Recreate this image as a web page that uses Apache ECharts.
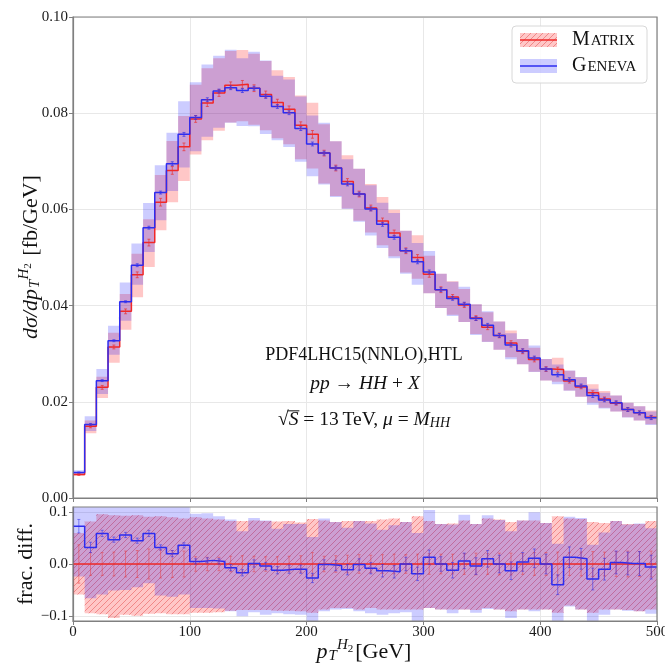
<!DOCTYPE html>
<html><head><meta charset="utf-8">
<script src="https://cdn.jsdelivr.net/npm/echarts@6/dist/echarts.min.js"></script>
<style>html,body{margin:0;padding:0;background:#fff}#c{width:665px;height:666px}</style>
</head><body><div id="c"></div>
<script>
// ---------------- data ----------------
const binEdges = [0,10,20,30,40,50,60,70,80,90,100,110,120,130,140,150,160,170,180,190,200,210,220,230,240,250,260,270,280,290,300,310,320,330,340,350,360,370,380,390,400,410,420,430,440,450,460,470,480,490,500];
const matrixXs = [0.0049,0.0149,0.0230,0.0314,0.0388,0.0464,0.0531,0.0615,0.0681,0.0730,
  0.0788,0.0821,0.0842,0.0858,0.0860,0.0852,0.0839,0.0822,0.0808,0.0775,
  0.0756,0.0717,0.0686,0.0658,0.0632,0.0603,0.0576,0.0551,0.0514,0.0500,
  0.0465,0.0433,0.0418,0.0401,0.0374,0.0355,0.0338,0.0322,0.0305,0.0288,
  0.0268,0.0267,0.0243,0.0231,0.0219,0.0206,0.0197,0.0184,0.0177,0.0168];
const genevaXs = [0.0053,0.0153,0.0244,0.0327,0.0408,0.0484,0.0562,0.0635,0.0695,0.0756,
  0.0791,0.0828,0.0846,0.0853,0.0847,0.0852,0.0835,0.0814,0.0801,0.0768,
  0.0736,0.0717,0.0686,0.0653,0.0632,0.0601,0.0569,0.0542,0.0514,0.0491,
  0.0470,0.0433,0.0415,0.0403,0.0373,0.0359,0.0338,0.0318,0.0306,0.0291,
  0.0268,0.0256,0.0246,0.0233,0.0213,0.0204,0.0198,0.0184,0.0177,0.0167];
// fractional differences w.r.t. Matrix
const genevaRatio = [0.073,0.032,0.059,0.047,0.056,0.045,0.059,0.032,0.020,0.036,
  0.005,0.007,0.005,-0.007,-0.017,0.001,-0.004,-0.012,-0.010,-0.010,
  -0.027,-0.001,-0.003,-0.011,-0.001,-0.008,-0.013,-0.015,0.000,-0.019,
  0.013,0.000,-0.012,0.006,-0.004,0.010,0.000,-0.013,0.004,0.011,
  0.000,-0.040,0.013,0.010,-0.029,-0.010,0.003,0.001,0.001,-0.006];
const matrixBandHi = [0.060,0.082,0.096,0.094,0.093,0.094,0.091,0.092,0.090,0.088,
  0.090,0.088,0.086,0.083,0.083,0.084,0.083,0.082,0.083,0.080,
  0.087,0.084,0.081,0.083,0.083,0.083,0.086,0.088,0.081,0.092,
  0.083,0.077,0.078,0.084,0.077,0.088,0.086,0.081,0.084,0.084,
  0.079,0.092,0.088,0.087,0.081,0.079,0.083,0.077,0.077,0.083];
const matrixBandLo = [-0.059,-0.095,-0.097,-0.104,-0.098,-0.100,-0.096,-0.095,-0.097,-0.097,
  -0.094,-0.094,-0.093,-0.090,-0.089,-0.089,-0.089,-0.090,-0.090,-0.091,
  -0.094,-0.088,-0.085,-0.085,-0.088,-0.085,-0.088,-0.088,-0.088,-0.088,
  -0.085,-0.088,-0.088,-0.088,-0.089,-0.085,-0.088,-0.091,-0.088,-0.088,
  -0.088,-0.094,-0.080,-0.088,-0.094,-0.088,-0.088,-0.089,-0.091,-0.088];
const genevaBandHi = [0.180,0.140,0.165,0.140,0.155,0.140,0.155,0.125,0.115,0.130,
  0.097,0.098,0.092,0.086,0.063,0.089,0.084,0.068,0.077,0.077,
  0.052,0.088,0.081,0.070,0.083,0.078,0.066,0.075,0.081,0.060,
  0.104,0.077,0.076,0.095,0.077,0.094,0.085,0.063,0.084,0.100,
  0.079,0.039,0.091,0.089,0.037,0.061,0.083,0.076,0.078,0.069];
const genevaBandLo = [-0.024,-0.066,-0.059,-0.051,-0.050,-0.045,-0.037,-0.061,-0.063,-0.059,
  -0.085,-0.085,-0.086,-0.091,-0.101,-0.093,-0.098,-0.095,-0.097,-0.098,
  -0.115,-0.091,-0.088,-0.087,-0.091,-0.095,-0.098,-0.095,-0.093,-0.113,
  -0.085,-0.088,-0.095,-0.088,-0.094,-0.087,-0.088,-0.104,-0.088,-0.091,
  -0.088,-0.115,-0.082,-0.088,-0.115,-0.098,-0.088,-0.090,-0.091,-0.096];
// statistical error bars (ratio panel, fractional)
const matrixRatioErr = [0.037,0.022,0.022,0.023,0.025,0.026,0.029,0.027,0.026,0.025,
  0.014,0.013,0.013,0.015,0.016,0.015,0.014,0.014,0.015,0.016,
  0.022,0.015,0.016,0.017,0.018,0.017,0.018,0.019,0.018,0.019,
  0.020,0.019,0.019,0.020,0.021,0.020,0.021,0.021,0.020,0.022,
  0.022,0.023,0.022,0.023,0.024,0.023,0.024,0.025,0.024,0.025];
const genevaRatioErr = [0.013,0.010,0.006,0.005,0.005,0.005,0.006,0.005,0.006,0.005,
  0.005,0.005,0.005,0.006,0.006,0.007,0.007,0.007,0.008,0.008,
  0.009,0.009,0.010,0.010,0.011,0.011,0.012,0.012,0.013,0.013,
  0.014,0.014,0.015,0.015,0.016,0.016,0.017,0.017,0.018,0.018,
  0.019,0.019,0.020,0.020,0.021,0.021,0.022,0.022,0.023,0.023];
// statistical error bars (main panel, fb/GeV)
const matrixMainErr = [0.0002,0.0003,0.0004,0.0004,0.0005,0.0006,0.0007,0.0008,0.0008,0.0008,
  0.0007,0.0007,0.0007,0.0007,0.0008,0.0007,0.0007,0.0007,0.0007,0.0007,
  0.0008,0.0006,0.0006,0.0006,0.0006,0.0006,0.0006,0.0006,0.0006,0.0006,
  0.0006,0.0006,0.0005,0.0005,0.0005,0.0005,0.0005,0.0005,0.0005,0.0005,
  0.0005,0.0005,0.0004,0.0004,0.0004,0.0004,0.0004,0.0004,0.0004,0.0004];
const genevaMainErr = [0.0001,0.0002,0.0002,0.0002,0.0002,0.0003,0.0003,0.0003,0.0004,0.0004,
  0.0004,0.0004,0.0004,0.0004,0.0004,0.0004,0.0004,0.0004,0.0004,0.0004,
  0.0004,0.0004,0.0004,0.0004,0.0004,0.0004,0.0004,0.0004,0.0004,0.0004,
  0.0004,0.0004,0.0004,0.0004,0.0004,0.0004,0.0004,0.0004,0.0004,0.0004,
  0.0004,0.0004,0.0004,0.0004,0.0004,0.0004,0.0004,0.0004,0.0004,0.0004];
const matrixRatio = [0,0,0,0,0,0,0,0,0,0,0,0,0,0,0,0,0,0,0,0,0,0,0,0,0,0,0,0,0,0,0,0,0,0,0,0,0,0,0,0,0,0,0,0,0,0,0,0,0,0];
const xTicks = [0,100,200,300,400,500];
const yMainTicks = [0,0.02,0.04,0.06,0.08,0.10];
const yRatioTicks = [-0.1,0,0.1];
const seriesNames = ['Matrix','Geneva'];

// ---------------- style ----------------
const SERIF = "'Liberation Serif', 'DejaVu Serif', serif";
const RED_LINE = 'rgb(240,40,40)', BLUE_LINE = 'rgb(45,45,240)';
const RED_FILL = 'rgba(255,0,0,0.22)', BLUE_FILL = 'rgba(0,0,255,0.20)';
const FRAME = '#808080', GRIDC = '#e8e8e8';
const G0 = {left:73, top:17, width:584, height:481};
const G1 = {left:73, top:507, width:584, height:114};

const hatch = document.createElement('canvas');
hatch.width = 6; hatch.height = 6;
(function(){const c=hatch.getContext('2d');c.strokeStyle='rgba(225,60,60,0.45)';c.lineWidth=1;
 c.beginPath();c.moveTo(-1,7);c.lineTo(7,-1);c.moveTo(-1,1);c.lineTo(1,-1);c.moveTo(5,7);c.lineTo(7,5);c.stroke();})();
const hatchFill = {image: hatch, repeat: 'repeat'};

function centers(){ const c=[]; for(let i=0;i<binEdges.length-1;i++) c.push((binEdges[i]+binEdges[i+1])/2); return c; }
const binCenters = centers();

function stepData(vals){ const d = vals.map((v,i)=>[binEdges[i], v]); d.push([binEdges[vals.length], vals[vals.length-1]]); return d; }

function bandSeries(idx, lo, hi, fill, withHatch, z){
  return {type:'custom', xAxisIndex:idx, yAxisIndex:idx, z, silent:true, clip:true,
    data:[[binEdges[0], lo[0]]],
    renderItem(params, api){
      const pts=[];
      for(let i=0;i<hi.length;i++){ pts.push(api.coord([binEdges[i],hi[i]])); pts.push(api.coord([binEdges[i+1],hi[i]])); }
      for(let i=lo.length-1;i>=0;i--){ pts.push(api.coord([binEdges[i+1],lo[i]])); pts.push(api.coord([binEdges[i],lo[i]])); }
      const cs=params.coordSys;
      const children=[{type:'polygon', shape:{points:pts}, style:{fill}}];
      if(withHatch) children.push({type:'polygon', shape:{points:pts}, style:{fill:hatchFill}});
      return {type:'group', children, clipPath:{type:'rect', shape:{x:cs.x,y:cs.y,width:cs.width,height:cs.height}}};
    }};
}
function errSeries(idx, vals, errs, color, z){
  return {type:'custom', xAxisIndex:idx, yAxisIndex:idx, z, silent:true, clip:true,
    data: vals.map((v,i)=>[binCenters[i], v-errs[i], v+errs[i]]),
    renderItem(params, api){
      const a=api.coord([api.value(0),api.value(1)]), b=api.coord([api.value(0),api.value(2)]);
      const st={stroke:color, lineWidth:1};
      return {type:'group', children:[
        {type:'line', shape:{x1:a[0],y1:a[1],x2:b[0],y2:b[1]}, style:st},
        {type:'line', shape:{x1:a[0]-1.5,y1:a[1],x2:a[0]+1.5,y2:a[1]}, style:st},
        {type:'line', shape:{x1:b[0]-1.5,y1:b[1],x2:b[0]+1.5,y2:b[1]}, style:st}]};
    }};
}
function stepSeries(idx, vals, color, z, name){
  return {type:'line', name, xAxisIndex:idx, yAxisIndex:idx, z, step:'end', symbol:'none', silent:true, clip:true,
    data: stepData(vals), lineStyle:{color, width:1.5}};
}

const mainRedLo = matrixXs.map((v,i)=>v*(1+matrixBandLo[i]));
const mainRedHi = matrixXs.map((v,i)=>v*(1+matrixBandHi[i]));
const mainBlueLo = matrixXs.map((v,i)=>v*(1+genevaBandLo[i]));
const mainBlueHi = matrixXs.map((v,i)=>v*(1+genevaBandHi[i]));

const axisLabelStyle = {fontFamily:SERIF, fontSize:15, color:'#1a1a1a'};
function xAx(gi, showLabel){
  return {type:'value', gridIndex:gi, min:xTicks[0], max:xTicks[xTicks.length-1], interval:100,
    axisLine:{show:true, onZero:false, lineStyle:{color:FRAME, width:1.2}},
    axisTick:{show:true, inside:false, length:4, lineStyle:{color:FRAME}},
    axisLabel:Object.assign({show:showLabel, margin:4, alignMinLabel:'center', alignMaxLabel:'center', hideOverlap:false}, axisLabelStyle),
    splitLine:{show:true, lineStyle:{color:GRIDC, width:1}}};
}

const chart = echarts.init(document.getElementById('c'), null, {renderer:'canvas'});
const txt = (x,y,text,rich,extra)=>Object.assign({type:'text', x, y, z:100, style:{text, rich, align:'center', verticalAlign:'middle', fill:'#111', fontFamily:SERIF}}, extra||{});

const labRich = {
  i:{fontFamily:SERIF, fontStyle:'italic', fontSize:22, fill:'#111'},
  n:{fontFamily:SERIF, fontSize:22, fill:'#111'},
  sub:{fontFamily:SERIF, fontStyle:'italic', fontSize:15, padding:[9,0,0,1], fill:'#111'},
  sup:{fontFamily:SERIF, fontStyle:'italic', fontSize:15, padding:[0,0,14,0], fill:'#111'},
  sup2:{fontFamily:SERIF, fontSize:11, padding:[0,2,5,0], fill:'#111'}
};
const ANN = 19.5;
const annRich = {
  r:{fontFamily:SERIF, fontSize:18, fill:'#111'},
  r2:{fontFamily:SERIF, fontSize:ANN, fill:'#111'},
  i:{fontFamily:SERIF, fontStyle:'italic', fontSize:ANN, fill:'#111'},
  sub:{fontFamily:SERIF, fontStyle:'italic', fontSize:14, padding:[7,0,0,0], fill:'#111'}
};
const legRich = {
  b:{fontFamily:SERIF, fontSize:20, fill:'#111'},
  s:{fontFamily:SERIF, fontSize:15, padding:[3,0,0,1], fill:'#111'}
};

// overline for sqrt(S): measure text widths of line 3
const mctx = document.createElement('canvas').getContext('2d');
function w(str, italic, size){ mctx.font = (italic?'italic ':'') + size + "px 'Liberation Serif'"; return mctx.measureText(str).width; }
const line3 = [['\u221A',0,ANN],['S',1,ANN],[' = 13\u2009TeV, ',0,ANN],['μ',1,ANN],[' = ',0,ANN],['M',1,ANN],['HH',1,14]];
const line3W = line3.reduce((s,t)=>s+w(t[0],t[1],t[2]),0);
const l3x0 = 364 - line3W/2;
const sqW = w('\u221A',0,ANN), sW = w('S',1,ANN);
const olY = 420 - ANN*0.47;

chart.setOption({
  animation:false,
  backgroundColor:'#fff',
  grid:[Object.assign({containLabel:false, outerBoundsMode:'none'}, G0), Object.assign({containLabel:false, outerBoundsMode:'none'}, G1)],
  xAxis:[xAx(0,false), xAx(1,true)],
  yAxis:[
    {type:'value', gridIndex:0, min:yMainTicks[0], max:yMainTicks[yMainTicks.length-1], interval:0.02,
      axisLine:{show:true, lineStyle:{color:FRAME, width:1.2}},
      axisTick:{show:true, inside:false, length:4, lineStyle:{color:FRAME}},
      axisLabel:Object.assign({margin:5, formatter:v=>v.toFixed(2)}, axisLabelStyle),
      splitLine:{show:true, lineStyle:{color:GRIDC}}},
    {type:'value', gridIndex:1, min:-0.11, max:0.11,
      axisLine:{show:true, lineStyle:{color:FRAME, width:1.2}},
      axisTick:{show:true, inside:false, length:4, lineStyle:{color:FRAME}, customValues:yRatioTicks},
      axisLabel:Object.assign({margin:5, customValues:yRatioTicks, formatter:v=>(v<0?'\u2212':'')+Math.abs(v).toFixed(1)}, axisLabelStyle),
      splitLine:{show:true, lineStyle:{color:GRIDC}}}
  ],
  series:[
    bandSeries(0, mainRedLo, mainRedHi, RED_FILL, false, 2),
    bandSeries(0, mainBlueLo, mainBlueHi, BLUE_FILL, false, 3),
    stepSeries(0, matrixXs, RED_LINE, 4, seriesNames[0]),
    stepSeries(0, genevaXs, BLUE_LINE, 5, seriesNames[1]),
    errSeries(0, matrixXs, matrixMainErr, 'rgba(235,50,50,0.7)', 6),
    errSeries(0, genevaXs, genevaMainErr, 'rgba(50,50,235,0.7)', 6),
    bandSeries(1, matrixBandLo, matrixBandHi, RED_FILL, true, 2),
    bandSeries(1, genevaBandLo, genevaBandHi, BLUE_FILL, false, 3),
    stepSeries(1, matrixRatio, RED_LINE, 4, seriesNames[0]),
    stepSeries(1, genevaRatio, BLUE_LINE, 5, seriesNames[1]),
    errSeries(1, matrixRatio, matrixRatioErr, 'rgba(235,50,50,0.45)', 6),
    errSeries(1, genevaRatio, genevaRatioErr, 'rgba(50,50,235,0.55)', 6)
  ],
  graphic:[
    {type:'rect', z:90, silent:true, shape:{x:G0.left,y:G0.top,width:G0.width,height:G0.height}, style:{fill:null, stroke:FRAME, lineWidth:1.2}},
    {type:'rect', z:90, silent:true, shape:{x:G1.left,y:G1.top,width:G1.width,height:G1.height}, style:{fill:null, stroke:FRAME, lineWidth:1.2}},
    // axis titles
    txt(31, 257, '{i|dσ/dp}{sub|T}{sup|H}{sup2|2}{n| [fb/GeV]}', labRich, {rotation:Math.PI/2}),
    txt(26, 564, '{n|frac. diff.}', labRich, {rotation:Math.PI/2}),
    txt(364, 652, '{i|p}{sub|T}{sup|H}{sup2|2}{n|[GeV]}', labRich),
    // annotation
    txt(364, 355, '{r|PDF4LHC15(NNLO),HTL}', annRich),
    txt(365, 384, '{i|pp}{r2| \u2192 }{i|HH}{r2| + }{i|X}', annRich),
    txt(364, 420, '{r2|\u221A}{i|S}{r2| = 13\u2009TeV, }{i|μ}{r2| = }{i|M}{sub|HH}', annRich),
    {type:'line', z:100, silent:true, shape:{x1:l3x0+sqW-1, y1:olY, x2:l3x0+sqW+sW+1, y2:olY}, style:{stroke:'#111', lineWidth:1}},
    // legend
    {type:'rect', z:95, silent:true, shape:{x:512,y:26,width:135,height:57,r:4}, style:{fill:'rgba(255,255,255,0.85)', stroke:'#d8d8d8', lineWidth:1}},
    {type:'rect', z:96, silent:true, shape:{x:520,y:33,width:37,height:14}, style:{fill:RED_FILL}},
    {type:'rect', z:96, silent:true, shape:{x:520,y:33,width:37,height:14}, style:{fill:hatchFill}},
    {type:'line', z:97, silent:true, shape:{x1:520,y1:40,x2:557,y2:40}, style:{stroke:RED_LINE, lineWidth:1.5}},
    {type:'rect', z:96, silent:true, shape:{x:520,y:59,width:37,height:14}, style:{fill:BLUE_FILL}},
    {type:'line', z:97, silent:true, shape:{x1:520,y1:66,x2:557,y2:66}, style:{stroke:BLUE_LINE, lineWidth:1.5}},
    {type:'text', x:572, y:40, z:98, style:{text:'{b|M}{s|ATRIX}', rich:legRich, align:'left', verticalAlign:'middle'}},
    {type:'text', x:572, y:66, z:98, style:{text:'{b|G}{s|ENEVA}', rich:legRich, align:'left', verticalAlign:'middle'}}
  ]
});
</script></body></html>
